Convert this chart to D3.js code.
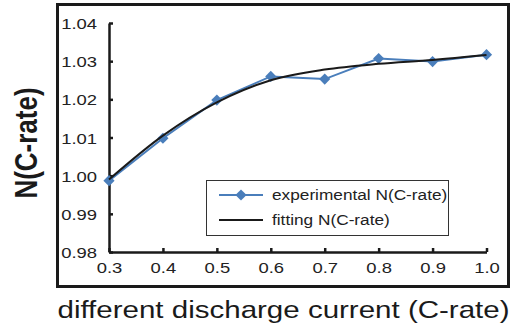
<!DOCTYPE html>
<html>
<meta charset="utf-8">
<style>
body { margin: 0; background: #fff; }
text { font-family: "Liberation Sans", Arial, sans-serif; }
.tick text { fill: #222; font-size: 15.5px; }
.axis path, .axis line { stroke: #1a1a1a; }
</style>
<body>
<script src="https://d3js.org/d3.v7.min.js"></script>
<script>
// data
var rates = [0.3, 0.4, 0.5, 0.6, 0.7, 0.8, 0.9, 1.0];
var experimental = [0.9987, 1.0098, 1.0198, 1.0260, 1.0253, 1.0307, 1.0299, 1.0317];
var fitting = [0.9990, 1.0105, 1.0192, 1.0250, 1.0278, 1.0293, 1.0303, 1.0316];
var xTicks = [0.3, 0.4, 0.5, 0.6, 0.7, 0.8, 0.9, 1.0];
var yTicks = [0.98, 0.99, 1.00, 1.01, 1.02, 1.03, 1.04];
var legendLabels = ["experimental N(C-rate)", "fitting N(C-rate)"];

var W = 510, H = 333;
var blue = "#4a7ebb";
var sx = 1.19; // the original figure is stretched sideways

var svg = d3.select("body").append("svg")
    .attr("width", W)
    .attr("height", H);

// outer frame
svg.append("rect")
    .attr("x", 57.5).attr("y", 4.5)
    .attr("width", 451).attr("height", 282)
    .attr("fill", "none")
    .attr("stroke", "#1a1a1a")
    .attr("stroke-width", 3);

var x = d3.scaleLinear().domain([0.3, 1.0]).range([109, 486.5]);
var y = d3.scaleLinear().domain([0.98, 1.04]).range([252, 23]);

// y axis, ticks pointing inward
var yAxis = svg.append("g")
    .attr("class", "axis")
    .attr("transform", "translate(109,0)")
    .call(d3.axisRight(y).tickValues(yTicks).tickSize(4).tickSizeOuter(0)
      .tickFormat(d3.format(".2f")));
yAxis.select(".domain").attr("stroke-width", 2.5);
yAxis.selectAll(".tick line").attr("stroke-width", 2.5);
yAxis.selectAll(".tick text")
    .attr("x", 0)
    .attr("dy", "0.36em")
    .attr("text-anchor", "end")
    .attr("transform", "translate(-12,0) scale(" + sx + ",1)");

var xAxis = svg.append("g")
    .attr("class", "axis")
    .attr("transform", "translate(0,252)")
    .call(d3.axisTop(x).tickValues(xTicks).tickSize(4).tickSizeOuter(0)
      .tickFormat(d3.format(".1f")));
xAxis.select(".domain").attr("stroke-width", 2.5);
xAxis.selectAll(".tick line").attr("stroke-width", 2.5);
xAxis.selectAll(".tick text")
    .attr("y", 0)
    .attr("dy", 0)
    .attr("transform", "translate(0,21) scale(" + sx + ",1)");

var expData = rates.map(function(r, i) { return [r, experimental[i]]; });
var fitData = rates.map(function(r, i) { return [r, fitting[i]]; });

var line = d3.line()
    .x(function(d) { return x(d[0]); })
    .y(function(d) { return y(d[1]); });

svg.append("path")
    .datum(expData)
    .attr("fill", "none")
    .attr("stroke", blue)
    .attr("stroke-width", 2)
    .attr("d", line);

var diamond = d3.symbol().type(d3.symbolDiamond2).size(80);

svg.selectAll(".pt")
    .data(expData)
    .enter().append("path")
    .attr("class", "pt")
    .attr("transform", function(d) { return "translate(" + x(d[0]) + "," + y(d[1]) + ")"; })
    .attr("d", diamond)
    .attr("fill", blue);

svg.append("path")
    .datum(fitData)
    .attr("fill", "none")
    .attr("stroke", "#1a1a1a")
    .attr("stroke-width", 2)
    .attr("d", line.curve(d3.curveMonotoneX));

// legend
var lg = svg.append("g").attr("transform", "translate(206,180)");
lg.append("rect")
    .attr("x", 0.5).attr("y", 0.5)
    .attr("width", 242).attr("height", 55)
    .attr("fill", "#fff")
    .attr("stroke", "#333")
    .attr("stroke-width", 1);
lg.append("line")
    .attr("x1", 13).attr("x2", 57).attr("y1", 15).attr("y2", 15)
    .attr("stroke", blue).attr("stroke-width", 2);
lg.append("path")
    .attr("transform", "translate(35,15)")
    .attr("d", diamond)
    .attr("fill", blue);
lg.append("line")
    .attr("x1", 13).attr("x2", 57).attr("y1", 40).attr("y2", 40)
    .attr("stroke", "#1a1a1a").attr("stroke-width", 2);
lg.selectAll(".lt")
    .data(legendLabels)
    .enter().append("text")
    .attr("class", "lt")
    .attr("transform", function(d, i) { return "translate(66," + (20 + i * 25) + ") scale(" + sx + ",1)"; })
    .attr("font-size", 14.5)
    .attr("fill", "#222")
    .text(function(d) { return d; });

// axis titles
svg.append("text")
    .attr("transform", "translate(37,143) scale(" + sx + ",1) rotate(-90)")
    .attr("text-anchor", "middle")
    .attr("font-size", 26)
    .attr("font-weight", "bold")
    .attr("fill", "#1a1a1a")
    .text("N(C-rate)");

svg.append("text")
    .attr("transform", "translate(283.5,318) scale(" + sx + ",1)")
    .attr("text-anchor", "middle")
    .attr("font-size", 24.8)
    .attr("fill", "#1a1a1a")
    .text("different discharge current (C-rate)");
</script>
</body>
</html>
